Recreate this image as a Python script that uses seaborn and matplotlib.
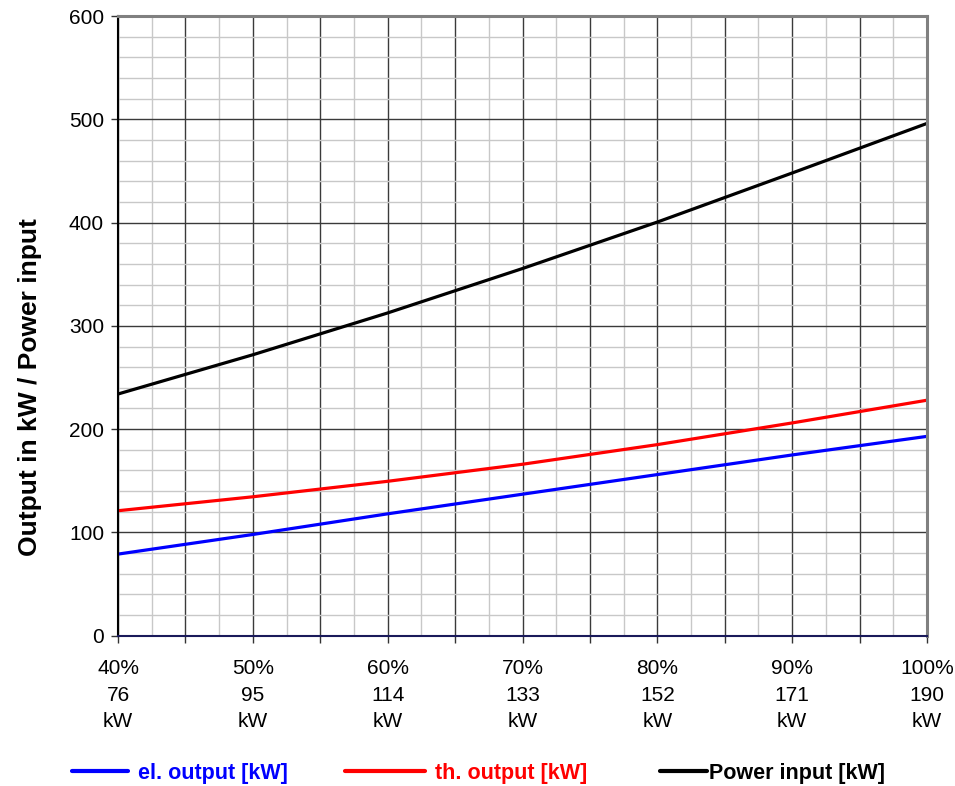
import matplotlib
matplotlib.use("Agg")
import matplotlib.pyplot as plt
import seaborn as sns
import pandas as pd
import numpy as np
from matplotlib.ticker import MultipleLocator
from matplotlib.lines import Line2D

load_pct = [40, 50, 60, 70, 80, 90, 100]
el_output = [79, 98, 118, 137, 156, 175, 193]
th_output = [121, 134.5, 149.5, 166, 185, 206, 228]
power_input = [234, 272, 312.5, 355.5, 400.5, 448, 496]
tick_kw = [76, 95, 114, 133, 152, 171, 190]
series_names = ["el. output [kW]", "th. output [kW]", "Power input [kW]"]
series_colors = ["#0000FF", "#FF0000", "#000000"]

sns.set_theme(style="white")
plt.rcParams['font.family'] = ['Liberation Sans', 'DejaVu Sans']
plt.rcParams['text.color'] = 'black'
plt.rcParams['axes.labelcolor'] = 'black'
plt.rcParams['xtick.color'] = 'black'
plt.rcParams['ytick.color'] = 'black'

df = pd.DataFrame({
    "load": load_pct * 3,
    "value": el_output + th_output + power_input,
    "series": [series_names[0]] * 7 + [series_names[1]] * 7 + [series_names[2]] * 7,
})

fig = plt.figure(figsize=(9.55, 7.86), dpi=100)
ax = fig.add_axes([118/955, 1 - 635.7/786, (927 - 118)/955, (635.7 - 16)/786])

ax.set_xlim(40, 100)
ax.set_ylim(0, 600)
ax.xaxis.set_minor_locator(MultipleLocator(2.5))
ax.yaxis.set_minor_locator(MultipleLocator(20))

for name, col in zip(series_names, series_colors):
    sub = df[df["series"] == name]
    sns.lineplot(data=sub, x="load", y="value", color=col, linewidth=2.3, ax=ax, legend=False)

xlabels = []
for v in np.arange(40, 101, 5):
    if v in load_pct:
        i = load_pct.index(v)
        xlabels.append(f"{v}%\n{tick_kw[i]}\nkW")
    else:
        xlabels.append("")
ax.set_xticks(np.arange(40, 101, 5))
ax.set_xticklabels(xlabels, fontsize=15, linespacing=1.5)
ax.set_yticks(np.arange(0, 601, 100))
ax.set_yticklabels([str(v) for v in range(0, 601, 100)], fontsize=15)
ax.tick_params(axis="x", which="major", direction="out", length=5, width=1, color="#333333", pad=12, bottom=True)
ax.tick_params(axis="y", which="major", direction="out", length=5, width=1, color="#333333", pad=5, left=True)
ax.tick_params(which="minor", length=0)

ax.grid(which="minor", color="#c8c8c8", linewidth=1.0)
ax.grid(which="major", color="#3a3a3a", linewidth=1.0)
ax.set_axisbelow(True)

ax.set_xlabel("")
ax.set_ylabel("Output in kW / Power input", fontsize=19, fontweight="bold", color="black")
ax.yaxis.set_label_coords((30 - 118) / 809, (635.7 - 387) / 619.7)
ax.yaxis.label.set_va("center")

for s in ["top", "right"]:
    ax.spines[s].set_color("#808080")
    ax.spines[s].set_linewidth(2.2)
ax.spines["left"].set_color("#000000")
ax.spines["left"].set_linewidth(1.5)
ax.spines["bottom"].set_color("#1a1a5a")
ax.spines["bottom"].set_linewidth(1.5)

ly = 1 - 773/786
leg_pos = [(72/955, 0.46, 2.6), (345/955, 0.46, 3.7), (660/955, 0.08, 2.2)]
for name, col, (lx, tp, hl) in zip(series_names, series_colors, leg_pos):
    h = Line2D([], [], color=col, linewidth=3)
    lg = fig.legend([h], [name], loc="center left", bbox_to_anchor=(lx, ly), frameon=False,
                    prop={"weight": "bold", "size": 15.5}, handlelength=hl,
                    handletextpad=tp, borderaxespad=0, borderpad=0)
    for t in lg.get_texts():
        t.set_color(col)

fig.savefig("out.png", dpi=100)
